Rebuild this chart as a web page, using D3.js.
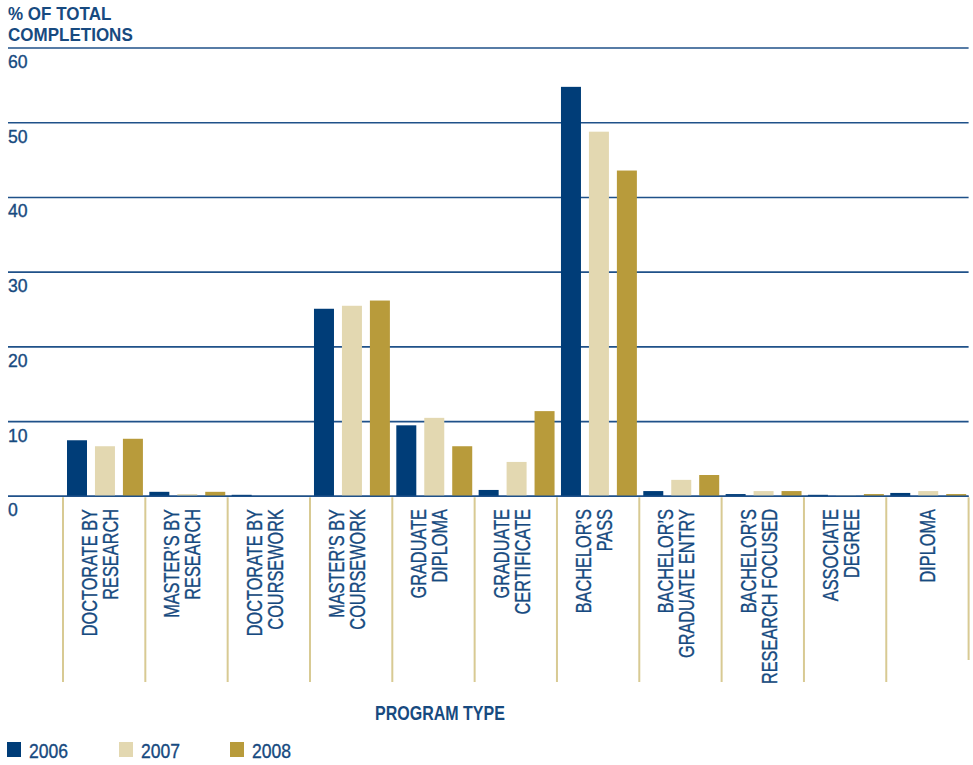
<!DOCTYPE html>
<html>
<head>
<meta charset="utf-8">
<script src="https://cdn.jsdelivr.net/npm/d3@7"></script>
<style>
  html, body { margin: 0; padding: 0; background: #ffffff; }
  svg { display: block; }
  text { font-family: "Liberation Sans", Arial, sans-serif; fill: #174a80; }
  text.reg { stroke: #174a80; stroke-width: 0.35; }
</style>
</head>
<body>
<svg id="chart" width="973" height="765"></svg>
<script>
// Share of total completions by program type, 2006–2008
const categories = [
  ["DOCTORATE BY", "RESEARCH"],
  ["MASTER’S BY", "RESEARCH"],
  ["DOCTORATE BY", "COURSEWORK"],
  ["MASTER’S BY", "COURSEWORK"],
  ["GRADUATE", "DIPLOMA"],
  ["GRADUATE", "CERTIFICATE"],
  ["BACHELOR’S", "PASS"],
  ["BACHELOR’S", "GRADUATE ENTRY"],
  ["BACHELOR’S", "RESEARCH FOCUSED"],
  ["ASSOCIATE", "DEGREE"],
  ["DIPLOMA"]
];
const years = ["2006", "2007", "2008"];
const values2006 = [7.5, 0.6, 0.2, 25.1, 9.5, 0.85, 54.8, 0.7, 0.3, 0.2, 0.45];
const values2007 = [6.7, 0.3, 0.05, 25.5, 10.5, 4.6, 48.8, 2.2, 0.7, 0.1, 0.7];
const values2008 = [7.7, 0.6, 0.05, 26.2, 6.7, 11.4, 43.6, 2.85, 0.7, 0.3, 0.3];
const yTicks = [0, 10, 20, 30, 40, 50, 60];

const series = [values2006, values2007, values2008];
const colors = ["#003d78", "#e3d8b1", "#b89b3b"];
const gridColor = "#1f5189";
const dividerColor = "#d8ca93";

const svg = d3.select("#chart");

// Condensed lettering: a regular face squeezed horizontally
function label(parent, tx, ty, str, size, squeeze, opts = {}) {
  const rot = opts.rotate ? " rotate(-90)" : "";
  return parent.append("text")
    .attr("class", opts.bold ? "bold" : "reg")
    .attr("transform", `translate(${tx},${ty})${rot} scale(${squeeze},1)`)
    .attr("font-size", size)
    .attr("font-weight", opts.bold ? "bold" : null)
    .attr("text-anchor", opts.anchor || "start")
    .text(str);
}

const left = 63, right = 968.6;
const x = d3.scaleBand().domain(d3.range(categories.length)).range([left, right]).padding(0);
const xs = d3.scaleBand().domain(years).range([4, x.bandwidth() - 2]).paddingInner(0.27).paddingOuter(0);
const y = d3.scaleLinear().domain([0, 60]).range([496.3, 48]);

// Horizontal gridlines with labels sitting just below each line
const grid = svg.append("g");
grid.selectAll("line").data(yTicks).join("line")
  .attr("x1", 8).attr("x2", right)
  .attr("y1", d => y(d)).attr("y2", d => y(d))
  .attr("stroke", gridColor).attr("stroke-width", 1.6);
yTicks.forEach(t => label(grid, 8, y(t) + 20, String(t), 18, 0.98));

// Axis title
label(svg, 8, 20, "% OF TOTAL", 18.5, 0.92, { bold: true });
label(svg, 8, 41, "COMPLETIONS", 18.5, 0.92, { bold: true });

// Bars
const groups = svg.append("g").selectAll("g").data(categories).join("g")
  .attr("transform", (d, i) => `translate(${x(i)},0)`);
groups.selectAll("rect")
  .data((d, i) => series.map((s, k) => ({ year: years[k], v: s[i], k })))
  .join("rect")
  .attr("x", d => xs(d.year))
  .attr("width", 20)
  .attr("y", d => y(d.v))
  .attr("height", d => y(0) - y(d.v))
  .attr("fill", d => colors[d.k]);

// Category dividers
const dividerX = d3.range(categories.length + 1).map(i => left + i * x.bandwidth());
svg.append("g").selectAll("line").data(dividerX).join("line")
  .attr("x1", d => d).attr("x2", d => d)
  .attr("y1", y(0) + 1)
  .attr("y2", (d, i) => i === categories.length ? 660 : 682)
  .attr("stroke", dividerColor).attr("stroke-width", 2);

// Baseline
svg.append("line")
  .attr("x1", 8).attr("x2", right)
  .attr("y1", y(0)).attr("y2", y(0))
  .attr("stroke", gridColor).attr("stroke-width", 1.6);

// Rotated category labels, right-aligned just under the baseline
const catLayer = svg.append("g");
categories.forEach((lines, i) => {
  const cx = x(i) + x.bandwidth() / 2;
  const offsets = lines.length === 1 ? [8] : [-7, 14];
  lines.forEach((ln, j) => label(catLayer, cx + offsets[j], 509, ln, 21.5, 0.76, { rotate: true, anchor: "end" }));
});

// Horizontal axis title
label(svg, 440, 720, "PROGRAM TYPE", 20, 0.8, { bold: true, anchor: "middle" });

// Legend
const legendX = [7, 119, 230];
const legend = svg.append("g");
years.forEach((yr, i) => {
  legend.append("rect").attr("x", legendX[i]).attr("y", 742)
    .attr("width", 14).attr("height", 15).attr("fill", colors[i]);
  label(legend, legendX[i] + 22, 758, yr, 19.5, 0.9);
});
</script>
</body>
</html>
